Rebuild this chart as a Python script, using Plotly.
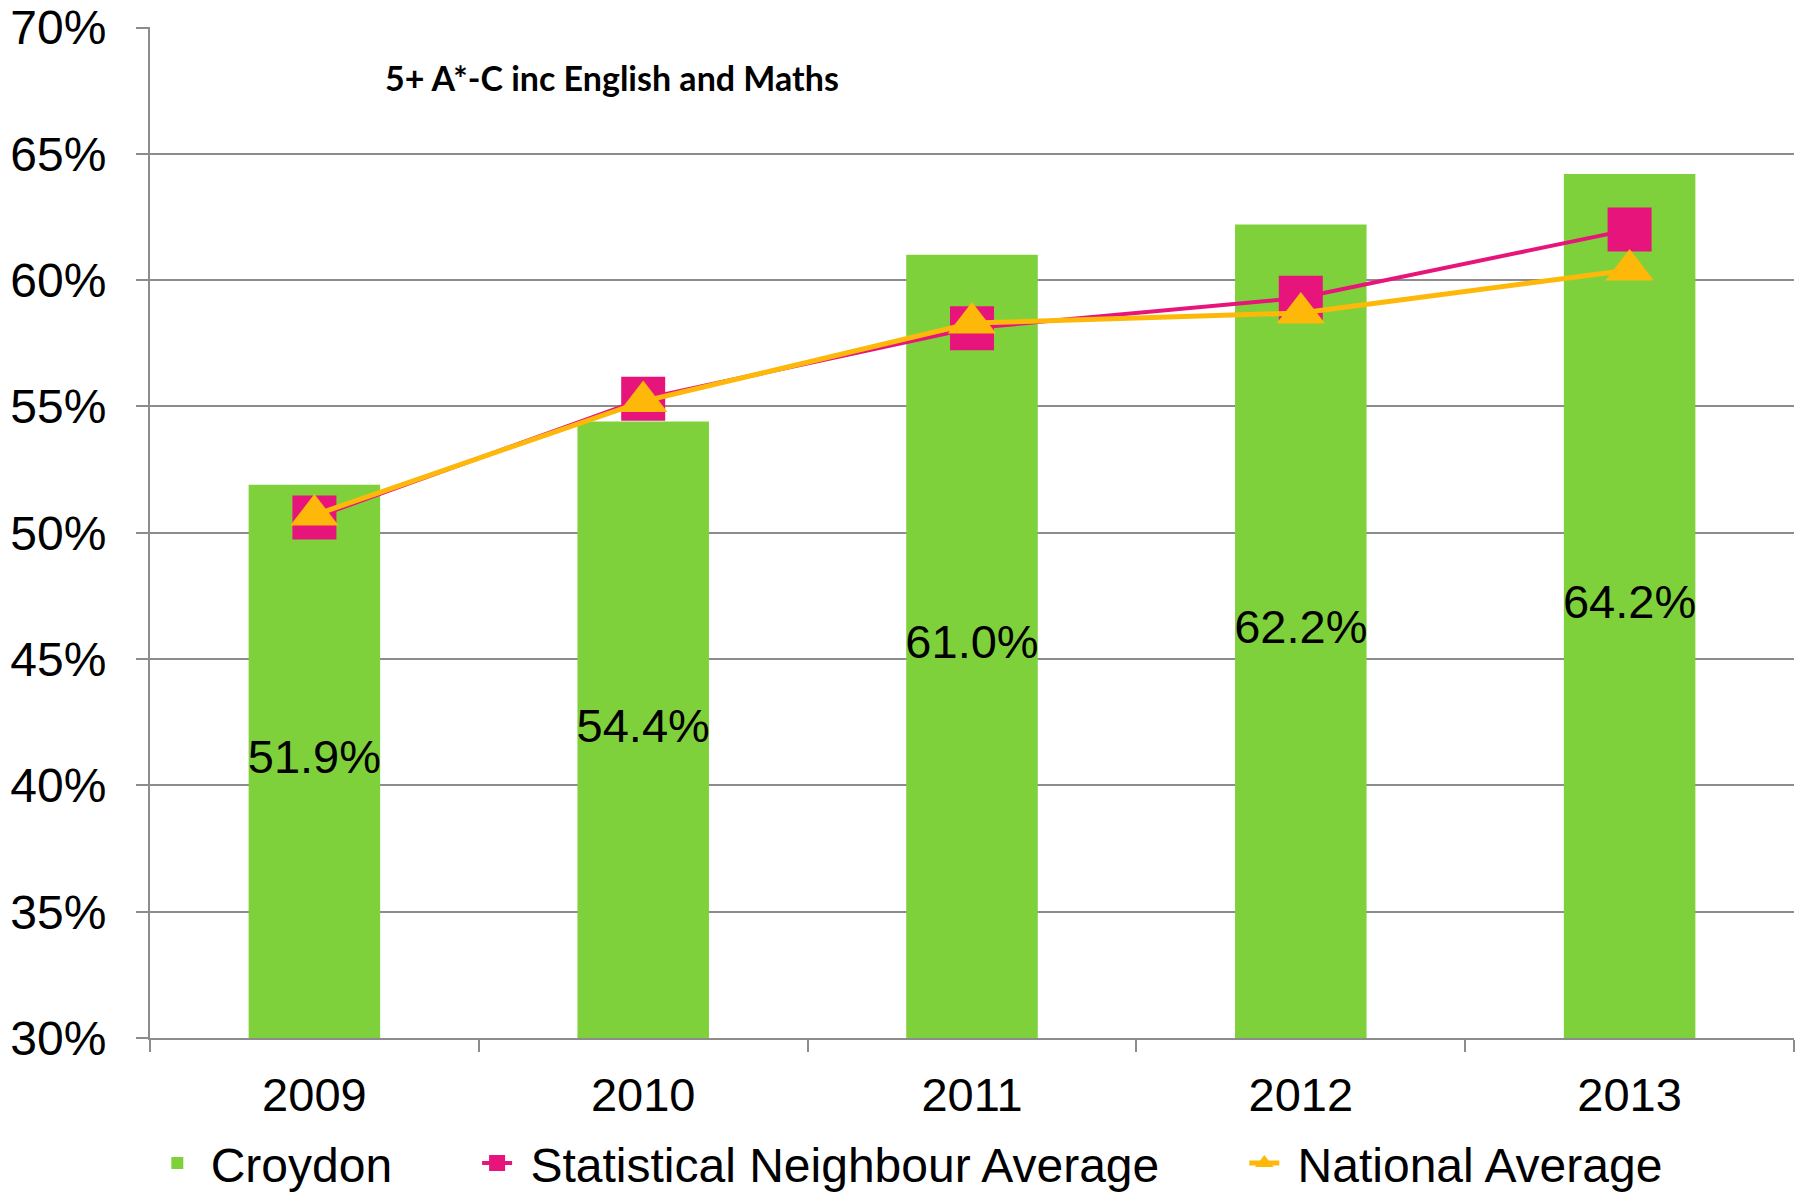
import plotly.graph_objects as go

years = ["2009", "2010", "2011", "2012", "2013"]
croydon = [51.9, 54.4, 61.0, 62.2, 64.2]
stat_neighbour = [50.6, 55.3, 58.1, 59.3, 62.0]
national = [50.7, 55.2, 58.3, 58.7, 60.4]
bar_labels = ["51.9%", "54.4%", "61.0%", "62.2%", "64.2%"]
y_min, y_max = 30, 70

GREEN = "#7FD13B"
PINK = "#E7157B"
ORANGE = "#FEB80A"
GRID = "#8C8C8C"
FONT = "Liberation Sans, Arial, sans-serif"
LEAD = "\u00a0"
PAD = "\u00a0" * 6

fig = go.Figure()
fig.add_trace(go.Bar(
    x=years, y=croydon, name=LEAD + "Croydon" + PAD,
    marker=dict(color=GREEN, line=dict(width=0)),
    width=0.4,
))
# data labels centred within the visible part of each bar
fig.add_trace(go.Scatter(
    x=years, y=[(y_min + v) / 2 for v in croydon], text=bar_labels,
    mode="text", textfont=dict(size=47, color="black", family=FONT),
    showlegend=False, hoverinfo="skip",
))
fig.add_trace(go.Scatter(
    x=years, y=stat_neighbour, name=LEAD + "Statistical Neighbour Average" + PAD,
    mode="lines+markers",
    line=dict(color=PINK, width=4),
    marker=dict(symbol="square", size=44, color=PINK),
))
fig.add_trace(go.Scatter(
    x=years, y=national, name=LEAD + "National Average",
    mode="lines+markers",
    line=dict(color=ORANGE, width=5),
    marker=dict(symbol="triangle-up", size=42, color=ORANGE),
))

fig.update_layout(
    width=1804, height=1195,
    margin=dict(l=150, r=10, t=27, b=157, autoexpand=False),
    paper_bgcolor="white", plot_bgcolor="white",
    font=dict(family=FONT, size=47, color="black"),
    showlegend=True,
    legend=dict(
        orientation="h", x=0.464, xanchor="center", y=-0.1240, yanchor="middle",
        font=dict(size=48, family=FONT), traceorder="normal",
        bgcolor="rgba(0,0,0,0)",
    ),
    annotations=[dict(
        text="<b>5+ A*-C inc English and Maths</b>",
        x=0.1417, y=0.950, xref="paper", yref="paper",
        xanchor="left", yanchor="middle", showarrow=False,
        font=dict(family="Lato, Carlito, sans-serif", size=34, color="black"),
    )],
)
fig.update_yaxes(
    range=[y_min, y_max + 0.02], tick0=y_min, dtick=5, ticksuffix="%",
    showgrid=True, gridcolor=GRID, gridwidth=2,
    showline=True, linecolor=GRID, linewidth=2,
    ticks="outside", ticklen=12, tickcolor=GRID, tickwidth=2,
    ticklabelstandoff=20, zeroline=False, automargin=False,
    tickfont=dict(size=48),
)
fig.update_xaxes(
    type="category", showgrid=False,
    showline=True, linecolor=GRID, linewidth=2,
    ticks="outside", tickson="boundaries", ticklen=12, tickcolor=GRID, tickwidth=2,
    ticklabelstandoff=15, automargin=False,
    tickfont=dict(size=47),
)

fig.write_html("out.html", config={"displayModeBar": False},
               post_script="document.body.style.margin='0';")
